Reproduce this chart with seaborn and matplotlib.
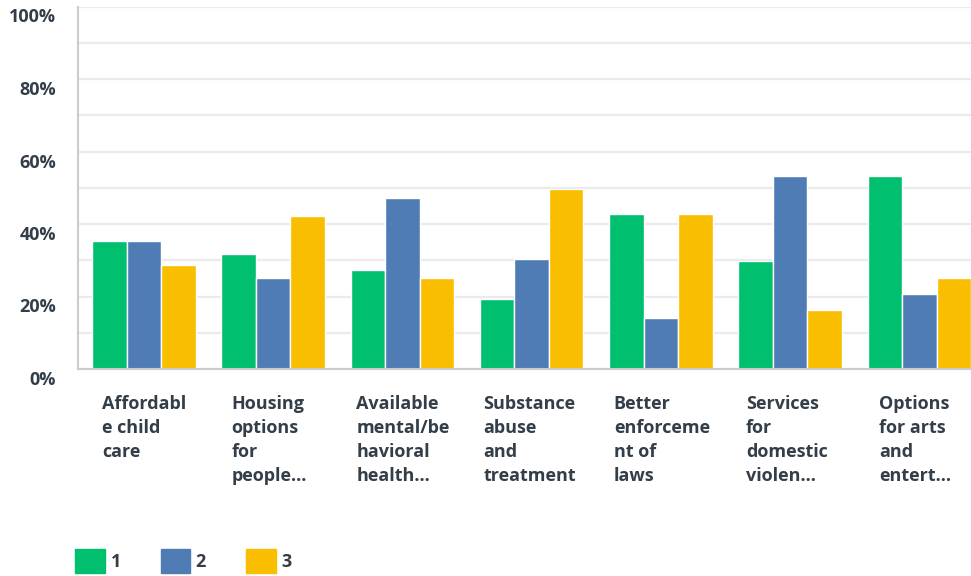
import numpy as np
import pandas as pd
import matplotlib
matplotlib.use('Agg')
import matplotlib.pyplot as plt
import matplotlib.transforms as mtransforms
from matplotlib.patches import Patch
import seaborn as sns

sns.set_style('white')
plt.rcParams['font.family'] = ['Open Sans', 'DejaVu Sans']

categories = [
    'Affordabl\ne child\ncare',
    'Housing\noptions\nfor\npeople...',
    'Available\nmental/be\nhavioral\nhealth...',
    'Substance\nabuse\nand\ntreatment',
    'Better\nenforceme\nnt of\nlaws',
    'Services\nfor\ndomestic\nviolen...',
    'Options\nfor arts\nand\nentert...',
]
rank1 = [35.3, 31.7, 27.3, 19.2, 42.7, 29.7, 53.2]
rank2 = [35.3, 25.0, 47.1, 30.3, 14.0, 53.2, 20.6]
rank3 = [28.6, 42.2, 25.0, 49.6, 42.7, 16.2, 25.0]
series = ['1', '2', '3']
colors = ['#00bf6f', '#507cb6', '#f9be00']
text_color = '#333e48'

df = pd.DataFrame({
    'category': categories * 3,
    'rank': [s for s in series for _ in categories],
    'value': rank1 + rank2 + rank3,
})

fig = plt.figure(figsize=(9.71, 5.76), dpi=100)
ax = fig.add_axes([78 / 971, 1 - 369 / 576, 1 - 78 / 971, (369 - 6.5) / 576])

sns.barplot(data=df, x='category', y='value', hue='rank', hue_order=series,
            palette=colors, saturation=1, width=0.8, edgecolor='white',
            linewidth=1, legend=False, ax=ax)

ax.set_xlim(-0.51, 6.40)
ax.set_ylim(0, 100)
ax.set_yticks(np.arange(0, 101, 20))
ax.set_yticks(np.arange(10, 100, 20), minor=True)
ax.set_yticklabels([f'{v}%' for v in range(0, 101, 20)])
ax.grid(axis='y', which='both', color='#ebebeb', linewidth=1.6, zorder=0)
ax.set_axisbelow(True)
ax.tick_params(axis='both', which='both', length=0, colors=text_color)
ax.tick_params(axis='y', pad=16)
ax.tick_params(axis='x', pad=19)

for lbl in ax.get_yticklabels():
    lbl.set_fontsize(13)
    lbl.set_fontweight('bold')
    lbl.set_transform(lbl.get_transform() +
                      mtransforms.ScaledTranslation(0, -9 / 100, fig.dpi_scale_trans))

# small per-label nudges (px) so the wrapped labels sit like the original
nudge = [0, 0, -4, -6, -5, -2, 2]
for lbl, dx in zip(ax.get_xticklabels(), nudge):
    lbl.set_fontsize(13)
    lbl.set_fontweight('bold')
    lbl.set_horizontalalignment('left')
    lbl.set_linespacing(1.43)
    lbl.set_transform(lbl.get_transform() +
                      mtransforms.ScaledTranslation((dx - 42) / 100, 0, fig.dpi_scale_trans))

ax.set_xlabel('')
ax.set_ylabel('')
for side in ['top', 'right']:
    ax.spines[side].set_visible(False)
ax.spines['left'].set_color('#cccccc')
ax.spines['left'].set_linewidth(1.5)
ax.spines['bottom'].set_color('#cccccc')
ax.spines['bottom'].set_linewidth(1.5)

handles = [Patch(facecolor=c, edgecolor=c, label=s) for s, c in zip(series, colors)]
leg = fig.legend(handles=handles, loc='lower left', bbox_to_anchor=(59 / 971, -13 / 576),
                 ncol=3, frameon=False, handlelength=1.65, handleheight=1.65,
                 handletextpad=0.3, columnspacing=2.2,
                 prop={'size': 13, 'weight': 'bold'})
for t in leg.get_texts():
    t.set_color(text_color)

fig.savefig('out.png', dpi=100)
